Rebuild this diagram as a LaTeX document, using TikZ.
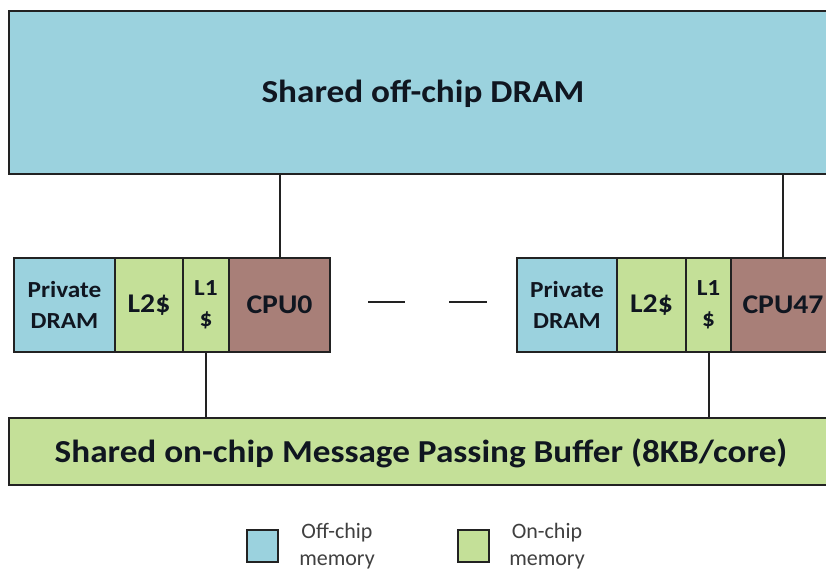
\documentclass[tikz,border=0pt]{standalone}
\usepackage{fontspec}
\setmainfont[FakeStretch=1.1]{Carlito}
\newfontfamily\legendfont{Carlito}
\definecolor{offchip}{RGB}{155,210,222}
\definecolor{onchip}{RGB}{196,224,152}
\definecolor{cpucol}{RGB}{168,127,120}
\definecolor{edgecol}{RGB}{34,34,34}
\definecolor{inkcol}{RGB}{16,22,32}
\definecolor{legendink}{RGB}{64,64,64}

\begin{document}
\begin{tikzpicture}[x=1pt,y=-1pt,
  blk/.style={draw=edgecol, line width=2.6pt, inner sep=0pt, align=center,
              font=\bfseries, text=inkcol},
  cell/.style={blk, minimum height=94pt},
  link/.style={draw=edgecol, line width=2pt},
  keybox/.style={draw=edgecol, line width=2pt, minimum width=31pt, minimum height=32pt, inner sep=0pt},
  keytext/.style={font=\legendfont\fontsize{22}{27}\selectfont, text=legendink, align=center},
  bigtext/.style={font=\bfseries\fontsize{32}{36}\selectfont, text=inkcol}
]
\useasboundingbox (0,0) rectangle (826,571);
\fill[white] (0,0) rectangle (826,571);

% shared memories
\node[blk, fill=offchip, minimum width=831pt, minimum height=163pt] (dram) at (424.5,92.5) {};
\node[bigtext] (dramtxt) at (423,94) {Shared off-chip DRAM};
\node[blk, fill=onchip, minimum width=831pt, minimum height=67pt] (mpb) at (424.5,451.5) {};
\node[bigtext] (mpbtxt) at (421,453) {Shared on-chip Message Passing Buffer (8KB/core)};

% core 0
\node[cell, fill=offchip, minimum width=101pt, font=\bfseries\fontsize{23}{31}\selectfont] (pd0) at (64.5,305) {Private\\DRAM};
\node[cell, fill=onchip, minimum width=68pt, font=\bfseries\fontsize{27}{30}\selectfont] (ltwo0) at (149,305) {L2\$};
\node[cell, fill=onchip, minimum width=46pt, font=\bfseries\fontsize{23}{31}\selectfont] (lone0) at (206,305) {L1\\\$};
\node[cell, fill=cpucol, minimum width=101pt, font=\bfseries\fontsize{27}{30}\selectfont] (cpu0) at (279.5,305) {CPU0};

% core 47
\node[cell, fill=offchip, minimum width=100pt, font=\bfseries\fontsize{23}{31}\selectfont] (pd47) at (567,305) {Private\\DRAM};
\node[cell, fill=onchip, minimum width=69pt, font=\bfseries\fontsize{27}{30}\selectfont] (ltwo47) at (651.5,305) {L2\$};
\node[cell, fill=onchip, minimum width=45pt, font=\bfseries\fontsize{23}{31}\selectfont] (lone47) at (708.5,305) {L1\\\$};
\node[cell, fill=cpucol, minimum width=104pt, font=\bfseries\fontsize{27}{30}\selectfont] (cpu47) at (783,305) {CPU47};

% connections
\draw[link] (cpu0.north) -- (cpu0.north |- dram.south);
\draw[link] (cpu47.north) -- (cpu47.north |- dram.south);
\draw[link] (lone0.south) -- (lone0.south |- mpb.north);
\draw[link] (lone47.south) -- (lone47.south |- mpb.north);

% ellipsis between the cores
\draw[link] (368,302) -- (405,302);
\draw[link] (449,302) -- (487,302);

% legend
\node[keybox, fill=offchip] (keyoff) at (262.5,546) {};
\node[keytext] (keyofftxt) at (337,546) {Off-chip\\memory};
\node[keybox, fill=onchip] (keyon) at (473.5,546) {};
\node[keytext] (keyontxt) at (547,546) {On-chip\\memory};
\end{tikzpicture}
\end{document}
